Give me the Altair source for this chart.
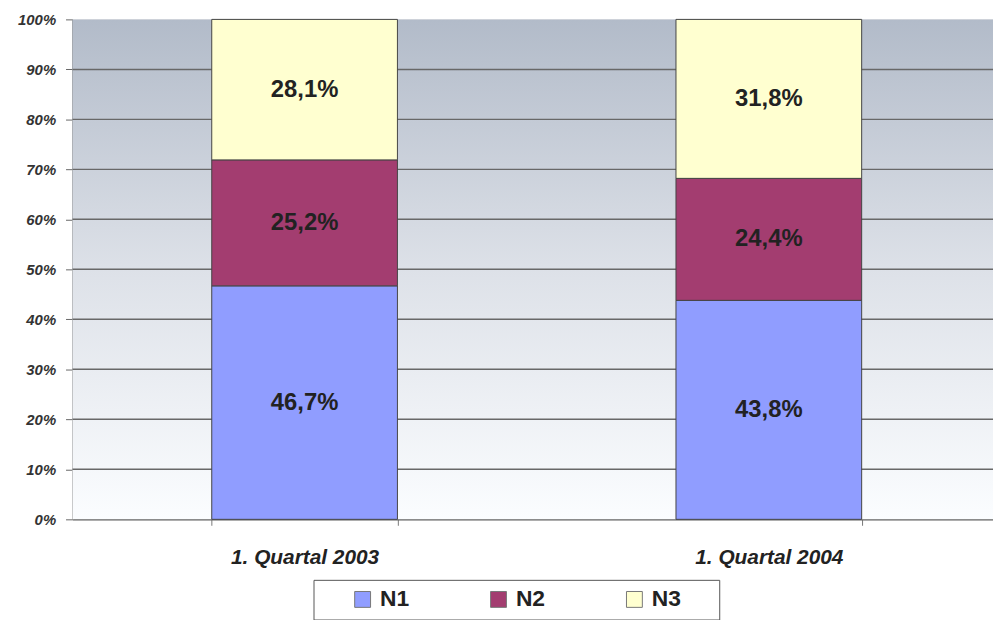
import altair as alt
import pandas as pd

quarters = ["1. Quartal 2003", "1. Quartal 2004"]
series = ["N1", "N2", "N3"]
values = {
    "1. Quartal 2003": [46.7, 25.2, 28.1],
    "1. Quartal 2004": [43.8, 24.4, 31.8],
}
y_ticks = [0, 10, 20, 30, 40, 50, 60, 70, 80, 90, 100]
grid_lines = [10, 20, 30, 40, 50, 60, 70, 80, 90]
colors = ["#909dff", "#a33d70", "#ffffd0"]

rows = []
for q in quarters:
    for s, v in zip(series, values[q]):
        rows.append({"quarter": q, "series": s, "value": v,
                     "order": series.index(s),
                     "label": f"{v:.1f}".replace(".", ",") + "%"})
df = pd.DataFrame(rows)

W, H = 928, 504
RANGE = 936  # plot runs past the right edge of the picture

bg = alt.Chart(pd.DataFrame({"a": [0]})).mark_rect(
    fill=alt.Gradient(gradient="linear", x1=0, y1=0, x2=0, y2=1,
                      stops=[alt.GradientStop(offset=0, color="#b2bbc9"),
                             alt.GradientStop(offset=0.5, color="#dde1e8"),
                             alt.GradientStop(offset=1, color="#fbfdff")])
).encode(x=alt.value(0), x2=alt.value(RANGE), y=alt.value(0), y2=alt.value(H))

grid = alt.Chart(pd.DataFrame({"g": grid_lines})).mark_rule(
    color="#686868", strokeWidth=1.5
).encode(y=alt.Y("g:Q", scale=alt.Scale(domain=[0, 100], nice=False)),
         x=alt.value(0), x2=alt.value(RANGE))

xenc = alt.X("quarter:N", sort=quarters,
             scale=alt.Scale(paddingInner=0.6, paddingOuter=0.3, range=[0, RANGE]),
             axis=alt.Axis(title=None, labelAngle=0, labelFontSize=21,
                           labelFontWeight="bold", labelFontStyle="italic",
                           labelFont="Liberation Sans", labelColor="#222",
                           labelPadding=22, tickBand="extent", tickSize=6,
                           tickColor="#777", domainColor="#666", domainWidth=1.5,
                           grid=False))

bars = alt.Chart(df).mark_bar(stroke="#444", strokeWidth=1).encode(
    x=xenc,
    y=alt.Y("value:Q", stack="zero",
            scale=alt.Scale(domain=[0, 100], nice=False),
            axis=alt.Axis(title=None, values=y_ticks, labelExpr="datum.value + '%'",
                          labelFontSize=15, labelFontWeight="bold", labelFontStyle="italic",
                          labelFont="Liberation Sans", labelColor="#333",
                          labelPadding=10, tickSize=7, tickColor="#666",
                          domainColor="#777", domainWidth=1.5, grid=False)),
    color=alt.Color("series:N", sort=series,
                    scale=alt.Scale(domain=series, range=colors),
                    legend=alt.Legend(title="\u00a0", titleOrient="right",
                                      titleFontSize=10, titlePadding=31,
                                      orient="none", direction="horizontal",
                                      legendX=243, legendY=565,
                                      symbolType="square", symbolSize=256,
                                      symbolStrokeColor="#777", symbolStrokeWidth=1,
                                      symbolOffset=30,
                                      labelFontSize=23, labelFontWeight="bold",
                                      labelFont="Liberation Sans", labelColor="#222",
                                      labelOffset=6, columnPadding=48,
                                      padding=8, strokeColor="#555",
                                      fillColor="#ffffff")),
    order=alt.Order("order:Q"),
)

text = alt.Chart(df).transform_stack(
    stack="value", groupby=["quarter"], as_=["y0", "y1"],
    sort=[alt.SortField("order", order="ascending")]
).transform_calculate(mid="(datum.y0 + datum.y1) / 2").mark_text(
    fontSize=24, fontWeight="bold", font="Liberation Sans", color="#222"
).encode(
    x=alt.X("quarter:N", sort=quarters),
    y=alt.Y("mid:Q"),
    text="label:N",
)

chart = alt.layer(bg, grid, bars, text).properties(
    width=W, height=H,
    autosize=alt.AutoSizeParams(type="none"),
    padding={"left": 65, "top": 9, "right": 0, "bottom": 99},
).configure_view(stroke=None).configure(background="#ffffff")

chart.save("out.html", embed_options={"renderer": "svg", "actions": False})
